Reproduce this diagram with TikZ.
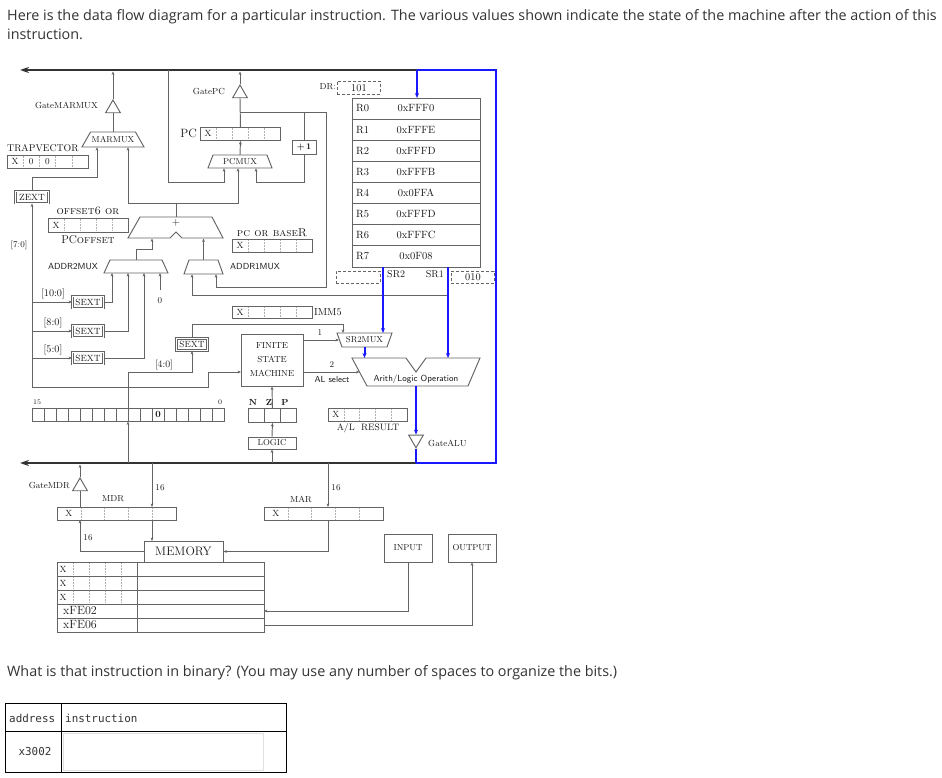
\documentclass[tikz,border=0pt]{standalone}
\usepackage{fontspec}
\newfontfamily\pagefont{Open Sans}
\newfontfamily\pagemono{DejaVu Sans Mono}
\usetikzlibrary{arrows.meta,shapes.geometric}
\definecolor{wiregray}{RGB}{100,100,100}
\definecolor{pagetext}{RGB}{51,51,51}
\definecolor{alublue}{RGB}{25,25,255}
\newcommand{\fsz}[1]{\fontsize{#1}{#1}\selectfont}
\tikzset{
  >={Stealth[length=3.5pt,width=2.8pt]},
  wire/.style={draw=wiregray, line width=0.95pt},
  bluewire/.style={draw=alublue, line width=2pt},
  bluearrow/.style={bluewire, -{Stealth[length=5pt,width=4pt]}},
  bus/.style={draw=black!80, line width=2.8pt, -{Stealth[length=9pt,width=6pt]}},
  regbox/.style={draw=wiregray, line width=0.95pt, inner sep=0, anchor=north west},
  celldiv/.style={draw=wiregray!50, densely dotted, line width=0.5pt},
  dashbox/.style={draw=wiregray, dash pattern=on 3pt off 2pt, line width=0.9pt, inner sep=0, anchor=north west, font=\fsz{10.3}, text=black!90},
  unitbox/.style={draw=wiregray, line width=0.95pt, inner sep=0, font=\fsz{8.6}, text=black!90},
  sextbox/.style={unitbox, double=white, double distance=0.7pt, minimum width=31, minimum height=12, font=\fsz{9}},
  lbl/.style={inner sep=0, text=black!90, font=\fsz{8.8}},
  sclbl/.style={lbl, font=\scshape\fsz{11.4}},
  sflbl/.style={inner sep=0, text=black!90, font=\sffamily\fsz{8.8}},
  val/.style={inner sep=0, text=black!90, font=\fsz{10.5}},
  muxtext/.style={inner sep=0, text=black!90, font=\fsz{8.6}},
  gate/.style={draw=wiregray, line width=0.95pt, regular polygon, regular polygon sides=3, minimum size=17, inner sep=0},
  gatedown/.style={gate, shape border rotate=180},
  pagetxt/.style={inner sep=0, text=pagetext, font=\pagefont\fsz{14.35}, anchor=base west},
  monotxt/.style={inner sep=0, text=pagetext, font=\pagemono\fsz{10.9}},
}
% register with a leading X and dotted cells
\newcommand{\regcells}[5]{%
  \node[regbox, minimum width=#4, minimum height=#5] (#1) at (#2,#3) {};
  \foreach \k in {1,...,4}
    \draw[celldiv] (#2+\k*#4/5,#3+1) -- (#2+\k*#4/5,#3+#5-1);
  \node[lbl, font=\fsz{9}] at (#2+#4/10,#3+#5/2) {X};
}
% multiplexer: name, cx, cy, bottom half width, top half width, half height, text
\newcommand{\muxbox}[7]{%
  \draw[wire] (#2-#4,#3+#6) -- (#2+#4,#3+#6) -- (#2+#5,#3-#6) -- (#2-#5,#3-#6) -- cycle;
  \node[muxtext, minimum height=2*#6, minimum width=2*#5] (#1) at (#2,#3) {#7};
}
\begin{document}
\begin{tikzpicture}[x=1pt,y=-1pt]
\useasboundingbox[fill=white] (0,0) rectangle (942,778);

% page text
\node[pagetxt] (intro) at (7,21) {Here is the data flow diagram for a particular instruction. The various values shown indicate the state of the machine after the action of this};
\node[pagetxt] (introb) at (7,40) {instruction.};
\node[pagetxt] (question) at (7,676) {What is that instruction in binary? (You may use any number of spaces to organize the bits.)};

% answer table
\draw[black, line width=0.8pt] (5,703) rectangle (286,772);
\draw[black, line width=0.8pt] (61,703) -- (61,772);
\draw[black, line width=0.8pt] (5,731) -- (286,731);
\node[draw=black!12, line width=0.8pt, minimum width=200, minimum height=37, anchor=north west, inner sep=0] (answer) at (63,733) {};
\node[monotxt, anchor=base west] (addrhead) at (9,722) {address};
\node[monotxt, anchor=base west] (insthead) at (65,722) {instruction};
\node[monotxt] (addr) at (35,752) {x3002};

% busses
\coordinate (busTop) at (417,70);
\coordinate (busBot) at (416,463);
\draw[bus] (busTop) -- (20,70);
\draw[bus] (busBot) -- (20,463);
\draw[bluewire] (busTop) -- (496,70) -- (496,463) -- (busBot);

% MARMUX side
\node[gate] (gmarmux) at (113,108.5) {};
\node[lbl, anchor=east] (gmarmuxlbl) at (98,105) {GateMARMUX};
\draw[wire,->] (gmarmux.north) -- (113,71.5);
\muxbox{marmux}{113}{139.5}{31}{22.5}{7.5}{MARMUX}
\draw[wire] (marmux.north) -- (gmarmux.south);
\node[lbl, anchor=west, font=\fsz{9.8}] (traplbl) at (7,148) {TRAPVECTOR};
\regcells{trapvec}{7}{155}{81}{13}
\node[lbl, font=\fsz{9}] at (31.3,161.5) {0};
\node[lbl, font=\fsz{9}] at (47.5,161.5) {0};
\node[sextbox, minimum width=33] (zext) at (32,197) {ZEXT};
\draw[wire,->] (zext.north) |- (97,177) -- ([xshift=-16]marmux.south);
\node[lbl] (bseven) at (19,245) {[7:0]};

% PC
\node[gate] (gpc) at (240,93.5) {};
\node[lbl, anchor=east] (gpclbl) at (225,91) {GatePC};
\draw[wire,->] (gpc.north) -- (240,71.5);
\regcells{pc}{200}{127}{80}{13}
\node[lbl, font=\fsz{12}, anchor=east] (pclbl) at (197,133) {PC};
\draw[wire] (pc.north) -- (gpc.south);
\muxbox{pcmux}{240}{161.5}{32}{27}{6.5}{PCMUX}
\draw[wire,->] (pcmux.north) -- (pc.south);
\node[unitbox, minimum width=24, minimum height=14, font=\bfseries\fsz{8.6}] (incr) at (304,147) {+\,1};
\draw[wire] (240,112) -- (326,112);
\draw[wire] (304,112) -- (incr.north);
\draw[wire,->] (incr.south) |- (256,182) -- ([xshift=16]pcmux.south);
\draw[wire,->] (168,70) |- (224,182) -- ([xshift=-16]pcmux.south);

% address adder
\draw[wire] (140,217) -- (212,217) -- (223,238) -- (182,238) -- (176,232) -- (170,238) -- (128,238) -- cycle;
\node[inner sep=0, minimum width=72, minimum height=21] (adder) at (176,227.5) {};
\node[lbl, font=\fsz{10.5}] (plus) at (176,223) {+};
\draw[wire] (adder.north) -- (176,203);
\draw[wire,->] (176,203) -| ([xshift=15]marmux.south);
\draw[wire,->] (176,203) -| ([xshift=-2]pcmux.south);
\node[sclbl] (offlbl) at (88,211) {offset6 or};
\regcells{offset}{48}{218}{80}{14}
\node[lbl, font=\fsz{11.4}] (pcofflbl) at (88,240) {PC\textsc{offset}};

% ADDR2MUX and ADDR1MUX
\muxbox{addrtwo}{136}{266.5}{32}{26}{6.5}{}
\node[sflbl, anchor=east] (addrtwolbl) at (98,267) {ADDR2MUX};
\draw[wire,->] (addrtwo.north) |- (152,249) -- (152,238.5);
\muxbox{addrone}{203.5}{267}{19.5}{14.5}{7}{}
\node[sflbl, anchor=west] (addronelbl) at (230,267) {ADDR1MUX};
\draw[wire,->] (addrone.north) -- (203.5,238.5);
\node[sclbl] (baselbl) at (272,233) {pc or baseR};
\regcells{pcbase}{232}{239}{80}{13}
\draw[wire,->] (326,112) |- (216,287) -- ([xshift=12.5]addrone.south);

% register file
\node[regbox, minimum width=128, minimum height=169] (rf) at (352,98) {};
\foreach \r/\v [count=\i from 0] in {R0/0xFFF0,R1/0xFFFE,R2/0xFFFD,R3/0xFFFB,R4/0x0FFA,R5/0xFFFD,R6/0xFFFC,R7/0x0F08} {
  \ifnum\i>0 \draw[wire] (352,98+21.125*\i) -- ++(128,0); \fi
  \node[val, anchor=west] (reg\i) at (356,108.5+21.125*\i) {\r};
  \node[val] (val\i) at (416,108.5+21.125*\i) {\v};
}
\draw[bluearrow] (busTop) -- (busTop |- rf.north);
\node[lbl, anchor=east] (drlbl) at (336,87) {DR:};
\node[dashbox, minimum width=43, minimum height=13] (dr) at (337,81) {101};
\node[dashbox, minimum width=44, minimum height=12] (srtwo) at (336,271) {};
\node[lbl, anchor=west, font=\fsz{10}] (srtwolbl) at (387,274) {SR2};
\node[lbl, anchor=east, font=\fsz{10}] (sronelbl) at (444,274) {SR1};
\node[dashbox, minimum width=43, minimum height=12] (srone) at (451,271) {010};
\draw[wire,->] (448,295) -| ([xshift=-11.5]addrone.south);

% immediate and SEXT paths
\foreach \n/\y/\b/\x in {a/302/{[10:0]}/112, b/331/{[8:0]}/128, c/358/{[5:0]}/144} {
  \node[sextbox] (sext\n) at (88,\y) {SEXT};
  \draw[wire,->] (32,\y) -- (sext\n.west);
  \node[lbl, font=\fsz{10.2}] at (53,\y-8) {\b};
  \draw[wire,->] (sext\n.east) -| (\x,273);
}
\draw[wire,->] (160,290) -- (160,273);
\node[lbl] (zero) at (160,301) {0};
\draw[wire,->] (32,387) -- (zext.south);
\draw[wire,->] (32,387) -| (208,372) -- (241,372);
\regcells{imm}{232}{306}{80}{12}
\node[lbl, anchor=west, font=\fsz{10.2}] (immlbl) at (314,312) {IMM5};
\node[sextbox] (sextd) at (192,344.5) {SEXT};
\draw[wire,->] (sextd.north) |- (343,324) -- (343,333);

% IR
\node[regbox, minimum width=192, minimum height=13] (ir) at (32,408) {};
\foreach \k in {1,...,15} \draw[wire] (32+12*\k,408) -- ++(0,13);
\node[lbl, font=\fsz{7}] (irhi) at (37,402) {15};
\node[lbl, font=\fsz{7}] (irlo) at (220,402) {0};
\node[lbl, font=\bfseries\fsz{9.5}] (irbit) at (158,414.5) {0};
\draw[wire,->] (128,463) -- (128,421.5);
\draw[wire,->] (128,408) |- (192,372) -- (sextd.south);
\node[lbl, font=\fsz{9.8}] (bfour) at (164,365) {[4:0]};

% control and ALU
\muxbox{srmux}{364.5}{340}{22.5}{27.5}{7}{SR2MUX}
\node[unitbox, minimum width=62, minimum height=52, align=center, font=\fontsize{8.8}{14}\selectfont] (fsm) at (272,360) {FINITE\\STATE\\MACHINE};
\draw[wire,->] (303,340) -- (339,340);
\node[lbl] (one) at (320,333) {1};
\draw[wire,->] (303,372) -- (359.5,372);
\node[lbl] (two) at (332,365) {2};
\node[sflbl] (alsel) at (332,379) {AL select};
\draw[wire] (352,358) -- (406,358) -- (416,372) -- (426,358) -- (480,358) -- (468,386) -- (367,386) -- cycle;
\node[inner sep=0, minimum width=128, minimum height=28] (alu) at (416,372) {};
\node[sflbl] (alulbl) at (416,379) {Arith/Logic Operation};
\draw[bluearrow] (383,267) -- (383,333);
\draw[bluearrow] (448,267) -- (448,358);
\draw[bluearrow] (srmux.south) -- (364.5,358);
\node[gatedown] (galu) at (416,439.3) {};
\node[lbl, anchor=west] (galulbl) at (428,443) {GateALU};
\draw[bluearrow] (alu.south) -- (galu.north);
\draw[bluewire] (galu.south) -- (busBot);
\regcells{alres}{328}{408}{79}{13}
\node[lbl, font=\fsz{9.3}] (alreslbl) at (368,428) {A/L\ \ RESULT};

% condition codes
\node[regbox, minimum width=48, minimum height=14] (nzp) at (248,408) {};
\draw[wire] (264,408) -- ++(0,14);
\draw[wire] (280,408) -- ++(0,14);
\foreach \c/\x in {N/253,Z/269,P/285} \node[lbl, font=\bfseries\fsz{8.8}] at (\x,402) {\c};
\draw[wire,->] (nzp.north) -- (fsm.south);
\node[unitbox, minimum width=48, minimum height=12] (logic) at (272,443) {LOGIC};
\draw[wire,->] (logic.north) -- (nzp.south);
\draw[wire,->] (272,463) -- (logic.south);

% memory side
\node[gate] (gmdr) at (80,486.5) {};
\node[lbl, anchor=east] (gmdrlbl) at (70,485) {GateMDR};
\draw[wire,->] (gmdr.north) -- (80,464.5);
\regcells{mdr}{57}{507}{119}{13}
\node[lbl] (mdrlbl) at (113,499) {MDR};
\draw[wire] (80,507) -- (gmdr.south);
\draw[wire,->] (152,463) -- (152,507);
\node[lbl] (sixa) at (160,488) {16};
\node[unitbox, minimum width=79, minimum height=21, font=\fsz{12.3}] (memory) at (183.5,551.5) {MEMORY};
\draw[wire,->] (152,520) -- (152,541);
\draw[wire,->] (memory.west) -| (80,520);
\node[lbl] (sixb) at (88,538) {16};
\regcells{mar}{264}{507}{119}{13}
\node[lbl] (marlbl) at (301,499) {MAR};
\draw[wire,->] (328,463) -- (328,507);
\node[lbl] (sixc) at (336,488) {16};
\draw[wire,->] (328,520) |- (memory.east);
\node[regbox, minimum width=207, minimum height=70] (memtab) at (57,562) {};
\draw[wire] (137,562) -- (137,632);
\foreach \k in {1,...,4} \draw[wire] (57,562+14*\k) -- (264,562+14*\k);
\foreach \k in {0,1,2} {
  \node[lbl, font=\fsz{9}] at (63,569+14*\k) {X};
  \foreach \d in {73,89,105,121} \draw[celldiv] (\d,563+14*\k) -- (\d,575+14*\k);
}
\node[lbl, font=\fsz{12}, anchor=west] (feb) at (63,611) {xFE02};
\node[lbl, font=\fsz{12}, anchor=west] (fef) at (63,625) {xFE06};
\node[unitbox, minimum width=48, minimum height=28] (input) at (408,548) {INPUT};
\draw[wire,->] (input.south) |- (264,611);
\node[unitbox, minimum width=48, minimum height=28] (output) at (472,548) {OUTPUT};
\draw[wire,->] (264,625) -| (output.south);
\end{tikzpicture}
\end{document}
